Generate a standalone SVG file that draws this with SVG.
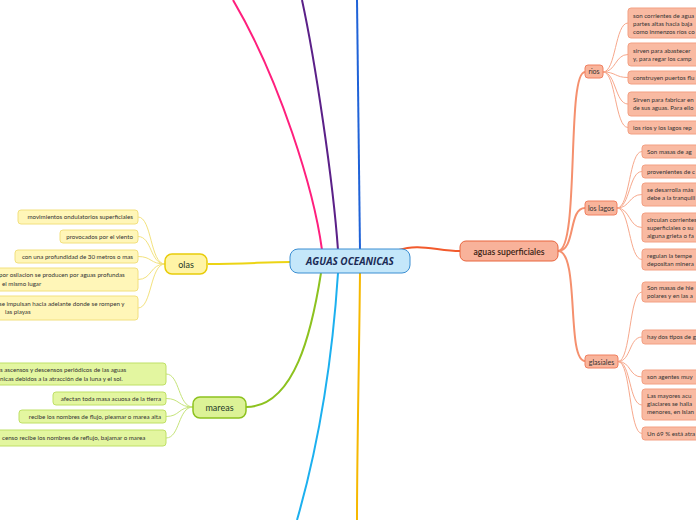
<svg xmlns="http://www.w3.org/2000/svg" width="696" height="520" viewBox="0 0 696 520">
<style>
text{font-family:Lato,"Open Sans","Liberation Sans",sans-serif;fill:#333;}
.lt{font-size:6.2px;}
.lr rect{fill:#f9baa2;stroke:#f3a083;stroke-width:1;}
.ly rect{fill:#fff6b8;stroke:#f2e07e;stroke-width:1;}
.lg rect{fill:#e3f6a0;stroke:#bfe066;stroke-width:1;}
.sub rect{fill:#f9b49b;stroke:#f08060;stroke-width:1;}
.sub text{font-size:7px;}
.c1{fill:none;stroke-width:1;}
.main{fill:none;stroke-width:2;}
</style>
<g id="connectors">
<path class="main" stroke="#ff1f7d" d="M322,250 C314,190 280,80 233,0"/>
<path class="main" stroke="#5b2088" d="M338,250 C333,180 315,60 302,0"/>
<path class="main" stroke="#1f62d8" d="M360,250 C359,150 357,60 357,0"/>
<path class="main" stroke="#1cb0ef" d="M338,273 C333,350 320,440 297,520"/>
<path class="main" stroke="#f6b800" d="M360,273 C359,370 357,450 357,520"/>
<path class="main" stroke="#8dc21f" d="M321,273 C312,330 295,407 246,407"/>
<path class="main" stroke="#ecd414" d="M208,264 C245,264 265,262 291,262"/>
<path class="main" stroke="#f25a2c" d="M399,250 C418,243 438,251 460,251"/>
<path class="main" stroke="#f5906e" d="M558,251 C580,251 566,72 585,72"/>
<path class="main" stroke="#f5906e" d="M558,251 C576,251 568,208 585,208"/>
<path class="main" stroke="#f5906e" d="M558,251 C580,251 566,361 585,361"/>
<g stroke="#f7a88c">
<path class="c1" d="M603,72 C616,72 615,23 628,23"/>
<path class="c1" d="M603,72 C616,72 615,54.5 628,54.5"/>
<path class="c1" d="M603,72 C616,72 615,77.5 628,77.5"/>
<path class="c1" d="M603,72 C616,72 615,104 628,104"/>
<path class="c1" d="M603,72 C616,72 615,127.5 628,127.5"/>
<path class="c1" d="M617,208 C630,208 629,151.5 642,151.5"/>
<path class="c1" d="M617,208 C630,208 629,171.5 642,171.5"/>
<path class="c1" d="M617,208 C630,208 629,194.5 642,194.5"/>
<path class="c1" d="M617,208 C630,208 629,227.5 642,227.5"/>
<path class="c1" d="M617,208 C630,208 629,259.5 642,259.5"/>
<path class="c1" d="M618,361.5 C631,361.5 629,292 642,292"/>
<path class="c1" d="M618,361.5 C631,361.5 629,337 642,337"/>
<path class="c1" d="M618,361.5 C631,361.5 629,377 642,377"/>
<path class="c1" d="M618,361.5 C631,361.5 629,405 642,405"/>
<path class="c1" d="M618,361.5 C631,361.5 629,433.5 642,433.5"/>
</g>
<g stroke="#f3e27e">
<path class="c1" d="M165,264 C150,264 152,217 138,217"/>
<path class="c1" d="M165,264 C150,264 152,236.5 138,236.5"/>
<path class="c1" d="M165,264 C150,264 152,256.5 138,256.5"/>
<path class="c1" d="M165,264 C150,264 152,279.5 138,279.5"/>
<path class="c1" d="M165,264 C150,264 152,308 138,308"/>
</g>
<g stroke="#c6e47a">
<path class="c1" d="M193,407 C178,407 180,374 166,374"/>
<path class="c1" d="M193,407 C178,407 180,398.5 166,398.5"/>
<path class="c1" d="M193,407 C178,407 180,416.5 166,416.5"/>
<path class="c1" d="M193,407 C178,407 180,438 166,438"/>
</g>
</g>
<g id="center">
<rect x="290" y="249" width="120" height="24" rx="8" fill="#c4e7fa" stroke="#3a8ed2" stroke-width="1"/>
<text x="350" y="264.5" text-anchor="middle" style="font-family:'Open Sans','Liberation Sans',sans-serif;font-size:10px;font-weight:bold;font-style:italic;fill:#1b2b55">AGUAS OCEANICAS</text>
</g>
<g id="aguas-superficiales">
<rect x="460" y="241" width="98" height="20" rx="6" fill="#f8b29a" stroke="#e8643c" stroke-width="1"/>
<text x="509" y="254.5" text-anchor="middle" style="font-size:8.6px;font-weight:600;fill:#3a1e14">aguas superficiales</text>
</g>
<g id="rios" class="sub"><rect x="585" y="65" width="18" height="13" rx="3"/><text x="594" y="74" text-anchor="middle">rios</text></g>
<g id="los-lagos" class="sub"><rect x="585" y="201" width="32" height="14" rx="3"/><text x="601" y="210.5" text-anchor="middle">los lagos</text></g>
<g id="glasiales" class="sub"><rect x="585" y="355" width="33" height="13" rx="3"/><text x="601.5" y="364.5" text-anchor="middle">glasiales</text></g>
<g id="rios-1" class="lr"><rect x="628" y="8" width="80" height="30" rx="3"/><text class="lt" x="633" y="18">son corrientes de agua</text><text class="lt" x="633" y="26">partes altas hacia baja</text><text class="lt" x="633" y="34">como inmenzos ríos co</text></g>
<g id="rios-2" class="lr"><rect x="628" y="43" width="80" height="23" rx="3"/><text class="lt" x="633" y="53">sirven para abastecer</text><text class="lt" x="633" y="61">y, para regar los camp</text></g>
<g id="rios-3" class="lr"><rect x="628" y="71" width="80" height="13" rx="3"/><text class="lt" x="633" y="79.5">construyen puertos flu</text></g>
<g id="rios-4" class="lr"><rect x="628" y="92" width="80" height="24" rx="3"/><text class="lt" x="633" y="102">Sirven para fabricar en</text><text class="lt" x="633" y="110">de sus aguas. Para ello</text></g>
<g id="rios-5" class="lr"><rect x="628" y="121" width="80" height="13" rx="3"/><text class="lt" x="633" y="129.5">los ríos y los lagos rep</text></g>
<g id="lagos-1" class="lr"><rect x="642" y="145" width="70" height="13" rx="3"/><text class="lt" x="647" y="153.5">Son masas de ag</text></g>
<g id="lagos-2" class="lr"><rect x="642" y="165" width="70" height="13" rx="3"/><text class="lt" x="647" y="173.5">provenientes de c</text></g>
<g id="lagos-3" class="lr"><rect x="642" y="183" width="70" height="23" rx="3"/><text class="lt" x="647" y="192">se desarrolla más</text><text class="lt" x="647" y="200">debe a la tranquili</text></g>
<g id="lagos-4" class="lr"><rect x="642" y="213" width="70" height="29" rx="3"/><text class="lt" x="647" y="222">circulan corrientes</text><text class="lt" x="647" y="230">superficiales o su</text><text class="lt" x="647" y="238">alguna grieta o fa</text></g>
<g id="lagos-5" class="lr"><rect x="642" y="249" width="70" height="21" rx="3"/><text class="lt" x="647" y="257.5">regulan la tempe</text><text class="lt" x="647" y="265.5">depositan minera</text></g>
<g id="glasiales-1" class="lr"><rect x="642" y="282" width="70" height="20" rx="3"/><text class="lt" x="647" y="290">Son masas de hie</text><text class="lt" x="647" y="298">polares y en las a</text></g>
<g id="glasiales-2" class="lr"><rect x="642" y="330" width="70" height="14" rx="3"/><text class="lt" x="647" y="339">hay dos tipos de g</text></g>
<g id="glasiales-3" class="lr"><rect x="642" y="370" width="70" height="14" rx="3"/><text class="lt" x="647" y="379">son agentes muy</text></g>
<g id="glasiales-4" class="lr"><rect x="642" y="389" width="70" height="31" rx="3"/><text class="lt" x="647" y="398">Las mayores acu</text><text class="lt" x="647" y="406">glaciares se halla</text><text class="lt" x="647" y="414">menores, en Islan</text></g>
<g id="glasiales-5" class="lr"><rect x="642" y="427" width="70" height="13" rx="3"/><text class="lt" x="647" y="435.5">Un 69 % está atra</text></g>
<g id="olas">
<rect x="165" y="254" width="42" height="20" rx="7" fill="#fff4a6" stroke="#e8cc0a" stroke-width="1.5"/>
<text x="186" y="267.5" text-anchor="middle" style="font-size:9px;fill:#1f3a2a">olas</text>
</g>
<g id="olas-1" class="ly"><rect x="18" y="210" width="120" height="14" rx="3"/><text class="lt" x="133" y="219" text-anchor="end">movimientos ondulatorios superficiales</text></g>
<g id="olas-2" class="ly"><rect x="60" y="230" width="78" height="13" rx="3"/><text class="lt" x="133" y="238.5" text-anchor="end">provocados por el viento</text></g>
<g id="olas-3" class="ly"><rect x="15" y="250" width="123" height="13" rx="3"/><text class="lt" x="133" y="258.5" text-anchor="end">con una profundidad de 30 metros o mas</text></g>
<g id="olas-4" class="ly"><rect x="-6" y="268" width="144" height="23" rx="3"/><text class="lt" x="-1" y="277">por osilacion se producen por aguas profundas</text><text class="lt" x="2" y="285.5">el mismo lugar</text></g>
<g id="olas-5" class="ly"><rect x="-6" y="296" width="144" height="24" rx="3"/><text class="lt" x="-1" y="305.5">se impulsan hacia adelante donde se rompen  y</text><text class="lt" x="5" y="314">las playas</text></g>
<g id="mareas">
<rect x="193" y="397" width="53" height="21" rx="7" fill="#dcf296" stroke="#8dc21f" stroke-width="1.5"/>
<text x="219.5" y="411" text-anchor="middle" style="font-size:9px;fill:#1f3a2a">mareas</text>
</g>
<g id="mareas-1" class="lg"><rect x="-6" y="363" width="172" height="22" rx="3"/><text class="lt" x="0" y="372">s ascensos y descensos periódicos de las aguas</text><text class="lt" x="0" y="380.5">nicas debidos a la atracción de la luna y el sol.</text></g>
<g id="mareas-2" class="lg"><rect x="53" y="392" width="113" height="13" rx="3"/><text class="lt" x="161" y="400.5" text-anchor="end">afectan toda masa acuosa de la tierra</text></g>
<g id="mareas-3" class="lg"><rect x="19" y="410" width="147" height="13" rx="3"/><text class="lt" x="161" y="418.5" text-anchor="end">recibe los nombres de flujo, pleamar o marea alta</text></g>
<g id="mareas-4" class="lg"><rect x="-6" y="430" width="172" height="16" rx="3"/><text class="lt" x="2" y="440">censo recibe los nombres de reflujo, bajamar o marea</text></g>
</svg>
